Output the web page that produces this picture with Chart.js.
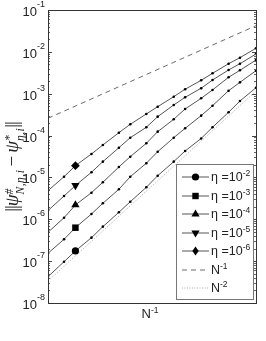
<!DOCTYPE html>
<html>
<head>
<meta charset="utf-8">
<script src="https://cdn.jsdelivr.net/npm/chart.js@4.4.1/dist/chart.umd.min.js"></script>
<style>
html, body { margin: 0; padding: 0; background: #fff; }
#wrap { position: relative; width: 266px; height: 341px; overflow: hidden; font-family: "Liberation Sans", Arial, sans-serif; color: #222; }
#c { position: absolute; left: 0; top: 0; }
#ylab { position: absolute; left: -88px; top: 155px; width: 200px; height: 24px; line-height: 24px; text-align: center;
  transform: rotate(-90deg); font-family: "Liberation Serif", "DejaVu Serif", serif; font-size: 19px; white-space: nowrap; color: #222; }
#ylab i { font-style: italic; }
.ss { display: inline-block; vertical-align: -6px; font-size: 11.5px; line-height: 11.5px; text-align: left; font-style: italic; letter-spacing: 0.5px; }
.ss b { display: block; font-weight: normal; }
.bars { letter-spacing: -1px; }
.mn { padding: 0 3px; }
#xlab { position: absolute; left: 130px; top: 306px; width: 40px; text-align: center; font-size: 13px; }
sup { font-size: 8.5px; vertical-align: 5px; line-height: 0; }
#leg { position: absolute; left: 176px; top: 164px; width: 78px; height: 136px; box-sizing: border-box; border: 1px solid #777; background: #fff; }
.row { position: absolute; left: 0; height: 16px; width: 76px; }
.row svg { position: absolute; left: 4px; top: 3px; }
.row span { position: absolute; left: 34px; top: 0; font-size: 12.5px; line-height: 16px; white-space: nowrap; }
</style>
</head>
<body>
<div id="wrap">
  <canvas id="c" width="266" height="341"></canvas>
  <div id="ylab"><span class="bars">||</span><i>ψ</i><span class="ss"><b>#</b><b>N,η,i</b></span><span class="mn">−</span><i>ψ</i><span class="ss"><b>*</b><b>η,i</b></span><span class="bars">||</span></div>
  <div id="xlab">N<sup>-1</sup></div>
  <div id="leg"></div>
</div>
<script>
// grid sizes N, the x axis is 1/N
var gridN = [768, 512, 384, 256, 192, 128, 96, 64, 48, 32, 24, 16, 12, 8, 6, 4];

// error norms, one list per eta
var eta2 = [4.25e-8, 9.71e-8, 1.75e-7, 3.64e-7, 6.66e-7, 1.47e-6, 2.63e-6, 5.81e-6, 1.10e-5, 2.38e-5, 4.28e-5, 8.52e-5, 1.58e-4, 3.60e-4, 6.70e-4, 1.39e-3];
var eta3 = [1.54e-7, 3.33e-7, 6.30e-7, 1.34e-6, 2.41e-6, 5.21e-6, 1.04e-5, 2.18e-5, 4.12e-5, 8.90e-5, 1.49e-4, 2.99e-4, 5.17e-4, 1.18e-3, 1.87e-3, 3.55e-3];
var eta4 = [4.89e-7, 1.09e-6, 2.20e-6, 4.32e-6, 7.65e-6, 1.78e-5, 3.13e-5, 6.54e-5, 1.24e-4, 2.45e-4, 4.32e-4, 7.77e-4, 1.23e-3, 2.47e-3, 3.63e-3, 6.39e-3];
var eta5 = [1.62e-6, 3.60e-6, 6.42e-6, 1.33e-5, 2.38e-5, 5.13e-5, 8.90e-5, 1.58e-4, 2.83e-4, 5.38e-4, 8.21e-4, 1.35e-3, 2.13e-3, 3.69e-3, 5.21e-3, 8.89e-3];
var eta6 = [4.82e-6, 1.04e-5, 1.91e-5, 3.63e-5, 5.96e-5, 1.17e-4, 1.86e-4, 3.28e-4, 4.90e-4, 8.49e-4, 1.28e-3, 2.09e-3, 3.07e-3, 5.21e-3, 7.25e-3, 1.22e-2];

// reference slopes, end points only (straight lines in log-log)
var refN = [768, 4];
var refOrder1 = [2.59e-4, 4.22e-2];
var refOrder2 = [3.36e-8, 1.16e-3];

var yTicks = [1e-1, 1e-2, 1e-3, 1e-4, 1e-5, 1e-6, 1e-7, 1e-8];
var yTickExp = ['-1', '-2', '-3', '-4', '-5', '-6', '-7', '-8'];

var seriesNames = ['2', '3', '4', '5', '6'];
var seriesData = [eta2, eta3, eta4, eta5, eta6];
var markers = [
  { style: 'circle', r: 3.6, rot: 0 },
  { style: 'rect', r: 4.6, rot: 0 },
  { style: 'triangle', r: 4.8, rot: 0 },
  { style: 'triangle', r: 4.8, rot: 180 },
  { style: 'rectRot', r: 4.4, rot: 0 }
];
var bigIdx = 2;

function pts(ns, vals) {
  return ns.map(function (n, i) { return { x: 1 / n, y: vals[i] }; });
}

var datasets = seriesData.map(function (vals, k) {
  var m = markers[k];
  return {
    data: pts(gridN, vals),
    borderColor: '#555',
    borderWidth: 1,
    pointStyle: gridN.map(function (_, i) { return i === bigIdx ? m.style : 'circle'; }),
    pointRadius: gridN.map(function (_, i) { return i === bigIdx ? m.r : 1.3; }),
    pointRotation: gridN.map(function (_, i) { return i === bigIdx ? m.rot : 0; }),
    pointBackgroundColor: '#000',
    pointBorderColor: '#000',
    pointBorderWidth: 0
  };
});
datasets.push({ data: pts(refN, refOrder1), borderColor: '#444', borderWidth: 0.8, borderDash: [5, 4], pointRadius: 0 });
datasets.push({ data: pts(refN, refOrder2), borderColor: '#999', borderWidth: 0.8, borderDash: [1, 1.5], pointRadius: 0 });

// frame, inward ticks and 10^n labels
var axesPlugin = {
  id: 'axesPlugin',
  afterDraw: function (chart) {
    var ctx = chart.ctx, a = chart.chartArea, y = chart.scales.y;
    ctx.save();
    ctx.strokeStyle = '#666';
    ctx.lineWidth = 1;
    for (var d = -8; d < -1; d++) {
      for (var m = 2; m <= 9; m++) {
        var py = Math.round(y.getPixelForValue(m * Math.pow(10, d))) + 0.5;
        ctx.beginPath();
        ctx.moveTo(a.left, py); ctx.lineTo(a.left + 2, py);
        ctx.moveTo(a.right, py); ctx.lineTo(a.right - 2, py);
        ctx.stroke();
      }
    }
    ctx.strokeStyle = '#444';
    yTicks.forEach(function (v) {
      var py = Math.round(y.getPixelForValue(v)) + 0.5;
      ctx.beginPath();
      ctx.moveTo(a.left, py); ctx.lineTo(a.left + 4, py);
      ctx.moveTo(a.right, py); ctx.lineTo(a.right - 4, py);
      ctx.stroke();
    });
    ctx.strokeStyle = '#333';
    ctx.strokeRect(Math.round(a.left) + 0.5, Math.round(a.top) + 0.5, Math.round(a.right - a.left), Math.round(a.bottom - a.top));

    ctx.fillStyle = '#222';
    ctx.textBaseline = 'alphabetic';
    yTicks.forEach(function (v, i) {
      var py = y.getPixelForValue(v);
      ctx.font = '9px "Liberation Sans", Arial, sans-serif';
      var ew = ctx.measureText(yTickExp[i]).width;
      var xr = a.left - 3 - ew;
      ctx.textAlign = 'left';
      ctx.fillText(yTickExp[i], xr, py - 3);
      ctx.font = '13px "Liberation Sans", Arial, sans-serif';
      ctx.textAlign = 'right';
      ctx.fillText('10', xr, py + 6);
    });
    ctx.restore();
  }
};

new Chart(document.getElementById('c'), {
  type: 'line',
  data: { datasets: datasets },
  options: {
    responsive: false,
    devicePixelRatio: 1,
    animation: false,
    events: [],
    layout: { padding: { top: 10, right: 10, left: 0, bottom: 0 } },
    plugins: { legend: { display: false }, tooltip: { enabled: false } },
    scales: {
      x: {
        type: 'logarithmic', min: 1 / 768, max: 1 / 4,
        ticks: { display: false }, grid: { display: false }, border: { display: false },
        afterFit: function (s) { s.height = 38; }
      },
      y: {
        type: 'logarithmic', min: 1e-8, max: 1e-1,
        ticks: { display: false }, grid: { display: false }, border: { display: false },
        afterFit: function (s) { s.width = 48; }
      }
    }
  },
  plugins: [axesPlugin]
});

// legend
var leg = document.getElementById('leg');
var rowTop = 4;
var rowStep = 18.55;
function symbolSvg(k) {
  var s = '<svg width="28" height="10" viewBox="0 0 28 10">';
  if (k < 5) {
    s += '<line x1="1" y1="5" x2="28" y2="5" stroke="#555" stroke-width="1"/>';
    var m = markers[k];
    if (m.style === 'circle') s += '<circle cx="14.5" cy="5" r="3.6" fill="#000"/>';
    if (m.style === 'rect') s += '<rect x="11.3" y="1.8" width="6.4" height="6.4" fill="#000"/>';
    if (m.style === 'triangle' && m.rot === 0) s += '<polygon points="14.5,0.6 18.6,7.4 10.4,7.4" fill="#000"/>';
    if (m.style === 'triangle' && m.rot === 180) s += '<polygon points="14.5,9.4 18.6,2.6 10.4,2.6" fill="#000"/>';
    if (m.style === 'rectRot') s += '<polygon points="14.5,0.6 17.7,5 14.5,9.4 11.3,5" fill="#000"/>';
  } else if (k === 5) {
    s += '<line x1="1" y1="5" x2="28" y2="5" stroke="#444" stroke-width="0.8" stroke-dasharray="5 4"/>';
  } else {
    s += '<line x1="1" y1="5" x2="28" y2="5" stroke="#999" stroke-width="0.8" stroke-dasharray="1 1.5"/>';
  }
  return s + '</svg>';
}
var labels = seriesNames.map(function (e) { return 'η =10<sup>-' + e + '</sup>'; });
labels.push('N<sup>-1</sup>', 'N<sup>-2</sup>');
labels.forEach(function (txt, k) {
  var r = document.createElement('div');
  r.className = 'row';
  r.style.top = (rowTop + k * rowStep) + 'px';
  r.innerHTML = symbolSvg(k) + '<span>' + txt + '</span>';
  leg.appendChild(r);
});
</script>
</body>
</html>
